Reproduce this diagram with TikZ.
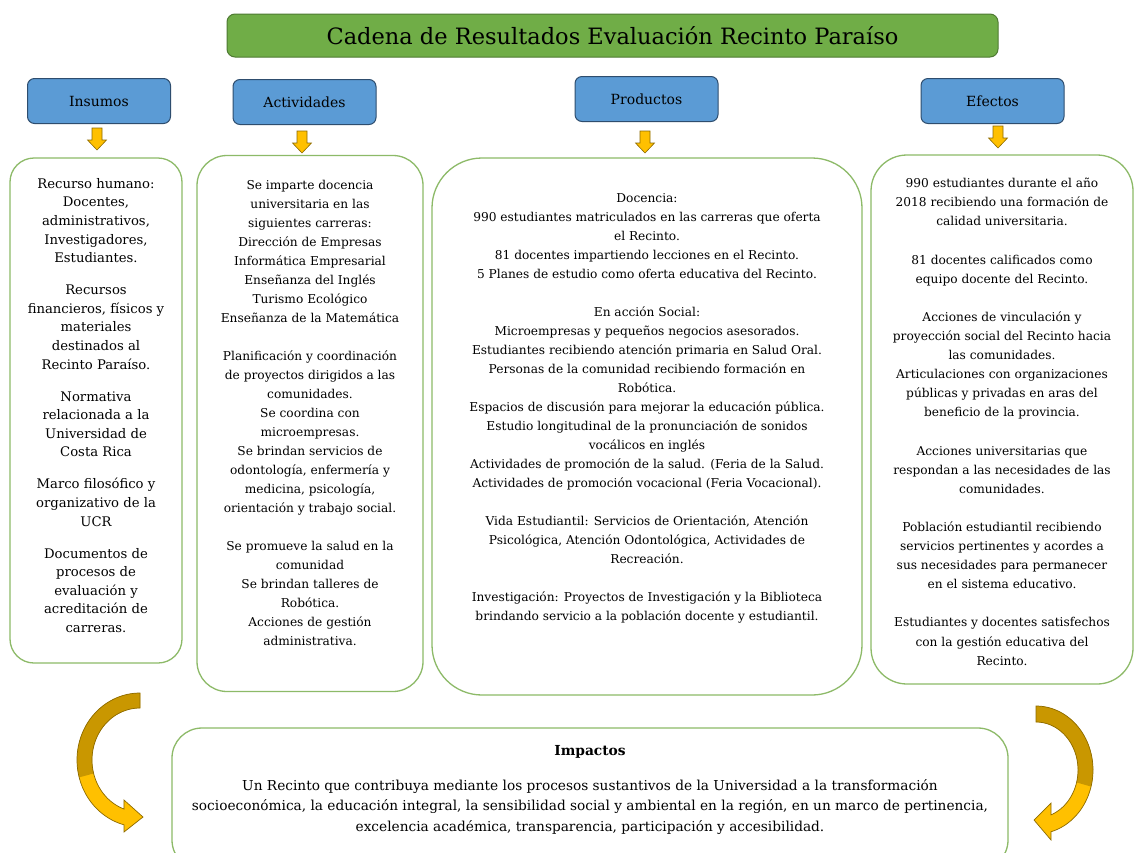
\documentclass[tikz,border=0pt]{standalone}
\usepackage{fontspec}
\setmainfont{DejaVu Serif}
\definecolor{titlefill}{HTML}{70AD47}
\definecolor{titledraw}{HTML}{4E7A32}
\definecolor{hdrfill}{HTML}{5B9BD5}
\definecolor{hdrdraw}{HTML}{2E4D6E}
\definecolor{boxdraw}{HTML}{8DBA68}
\definecolor{arrfill}{HTML}{FFC000}
\definecolor{arrdark}{HTML}{C99700}
\definecolor{arrdraw}{HTML}{8C6A00}
\tikzset{
  titlebox/.style={draw=titledraw, fill=titlefill, line width=1pt, rounded corners=8pt, minimum width=771pt, minimum height=43pt, inner sep=0pt, font=\fontsize{22.5}{26}\selectfont},
  hdrbox/.style={draw=hdrdraw, fill=hdrfill, line width=1pt, rounded corners=7pt, minimum width=143pt, minimum height=45pt, inner sep=0pt, font=\fontsize{14}{17}\selectfont},
  cbox/.style={draw=boxdraw, line width=1.3pt, fill=white, inner sep=0pt},
  txt/.style={align=center, inner sep=0pt, anchor=north},
  blk/.style={draw=arrdraw, fill=arrfill, line width=0.6pt, line join=miter},
  downarrow/.pic={\draw[blk] (-5,0) -- (5,0) -- (5,12) -- (9.5,12) -- (0,22) -- (-9.5,12) -- (-5,12) -- cycle;}
}
\begin{document}
\begin{tikzpicture}[x=1pt,y=-1pt]
\clip (0,0) rectangle (1134,852);
\fill[white] (0,0) rectangle (1134,852);

% title
\node[titlebox] (title) at (612.5,35.5) {Cadena de Resultados Evaluación Recinto Paraíso};

% headers
\node[hdrbox] (hins) at (99,101) {Insumos};
\node[hdrbox] (hact) at (304.5,102) {Actividades};
\node[hdrbox] (hpro) at (646.5,99) {Productos};
\node[hdrbox] (hefe) at (992.5,101) {Efectos};

% small arrows
\pic (a1) at (97,128) {downarrow};
\pic (a2) at (302,131) {downarrow};
\pic (a3) at (645,131) {downarrow};
\pic (a4) at (998,126) {downarrow};

% content boxes
\node[cbox, rounded corners=24pt, minimum width=172pt, minimum height=505pt] (bins) at (96,410.5) {};
\node[cbox, rounded corners=30pt, minimum width=226pt, minimum height=536pt] (bact) at (310,423.5) {};
\node[cbox, rounded corners=50pt, minimum width=430pt, minimum height=537pt] (bpro) at (647,426.5) {};
\node[cbox, rounded corners=36pt, minimum width=262pt, minimum height=529pt] (befe) at (1002,419.5) {};
\node[cbox, rounded corners=30pt, minimum width=836pt, minimum height=142pt] (bimp) at (590,799) {};

% texts
\node[txt, font=\fontsize{13.2}{18.6}\selectfont] (tins) at (96,178) {Recurso humano:\\ Docentes,\\ administrativos,\\ Investigadores,\\ Estudiantes.\\[13.4pt]
Recursos\\ financieros, físicos y\\ materiales\\ destinados al\\ Recinto Paraíso.\\[13.4pt]
Normativa\\ relacionada a la\\ Universidad de\\ Costa Rica\\[13.4pt]
Marco filosófico y\\ organizativo de la\\ UCR\\[13.4pt]
Documentos de\\ procesos de\\ evaluación y\\ acreditación de\\ carreras.};

\node[txt, font=\fontsize{12.2}{19}\selectfont] (tact) at (310,180) {Se imparte docencia\\ universitaria en las\\ siguientes carreras:\\ Dirección de Empresas\\ Informática Empresarial\\ Enseñanza del Inglés\\ Turismo Ecológico\\ Enseñanza de la Matemática\\[19pt]
Planificación y coordinación\\ de proyectos dirigidos a las\\ comunidades.\\ Se coordina con\\ microempresas.\\ Se brindan servicios de\\ odontología, enfermería y\\ medicina, psicología,\\ orientación y trabajo social.\\[19pt]
Se promueve la salud en la\\ comunidad\\ Se brindan talleres de\\ Robótica.\\ Acciones de gestión\\ administrativa.};

\node[txt, font=\fontsize{12.2}{19}\selectfont] (tpro) at (647,193) {Docencia:\\ 990 estudiantes matriculados en las carreras que oferta\\ el Recinto.\\ 81 docentes impartiendo lecciones en el Recinto.\\ 5 Planes de estudio como oferta educativa del Recinto.\\[19pt]
En acción Social:\\ Microempresas y pequeños negocios asesorados.\\ Estudiantes recibiendo atención primaria en Salud Oral.\\ Personas de la comunidad recibiendo formación en\\ Robótica.\\ Espacios de discusión para mejorar la educación pública.\\ Estudio longitudinal de la pronunciación de sonidos\\ vocálicos en inglés\\ Actividades de promoción de la salud. (Feria de la Salud.\\ Actividades de promoción vocacional (Feria Vocacional).\\[19pt]
Vida Estudiantil: Servicios de Orientación, Atención\\ Psicológica, Atención Odontológica, Actividades de\\ Recreación.\\[19pt]
Investigación: Proyectos de Investigación y la Biblioteca\\ brindando servicio a la población docente y estudiantil.};

\node[txt, font=\fontsize{12.2}{19.1}\selectfont] (tefe) at (1002,178) {990 estudiantes durante el año\\ 2018 recibiendo una formación de\\ calidad universitaria.\\[19.1pt]
81 docentes calificados como\\ equipo docente del Recinto.\\[19.1pt]
Acciones de vinculación y\\ proyección social del Recinto hacia\\ las comunidades.\\ Articulaciones con organizaciones\\ públicas y privadas en aras del\\ beneficio de la provincia.\\[19.1pt]
Acciones universitarias que\\ respondan a las necesidades de las\\ comunidades.\\[19.1pt]
Población estudiantil recibiendo\\ servicios pertinentes y acordes a\\ sus necesidades para permanecer\\ en el sistema educativo.\\[19.1pt]
Estudiantes y docentes satisfechos\\ con la gestión educativa del\\ Recinto.};

\node[txt, font=\bfseries\fontsize{13.8}{16}\selectfont] (timph) at (590,745) {Impactos};
\node[txt, font=\fontsize{13.7}{20.5}\selectfont] (timp) at (590,779) {Un Recinto que contribuya mediante los procesos sustantivos de la Universidad a la transformación\\ socioeconómica, la educación integral, la sensibilidad social y ambiental en la región, en un marco de pertinencia,\\ excelencia académica, transparencia, participación y accesibilidad.};

% curved arrows (left)
\fill[arrfill] plot[domain=270:104.7,samples=60] ({140+63*cos(\x)},{760+67*sin(\x)}) -- (124,832) -- (143,817) -- (124,800) -- plot[domain=109.5:270,samples=60] ({140+48*cos(\x)},{760+52*sin(\x)}) -- cycle;
\fill[arrdark] plot[domain=270:165,samples=40] ({140+63*cos(\x)},{760+67*sin(\x)}) -- plot[domain=165:270,samples=40] ({140+48*cos(\x)},{760+52*sin(\x)}) -- cycle;
\draw[arrdraw, line width=0.7pt, line join=miter] plot[domain=270:104.7,samples=60] ({140+63*cos(\x)},{760+67*sin(\x)}) -- (124,832) -- (143,817) -- (124,800) -- plot[domain=109.5:270,samples=60] ({140+48*cos(\x)},{760+52*sin(\x)}) -- cycle;

% curved arrows (right)
\fill[arrfill] plot[domain=-90:74.7,samples=60] ({1036+57*cos(\x)},{770+64*sin(\x)}) -- (1051,840) -- (1034,820) -- (1051,803) -- plot[domain=69.1:-90,samples=60] ({1036+42*cos(\x)},{770+48*sin(\x)}) -- cycle;
\fill[arrdark] plot[domain=-90:15,samples=40] ({1036+57*cos(\x)},{770+64*sin(\x)}) -- plot[domain=15:-90,samples=40] ({1036+42*cos(\x)},{770+48*sin(\x)}) -- cycle;
\draw[arrdraw, line width=0.7pt, line join=miter] plot[domain=-90:74.7,samples=60] ({1036+57*cos(\x)},{770+64*sin(\x)}) -- (1051,840) -- (1034,820) -- (1051,803) -- plot[domain=69.1:-90,samples=60] ({1036+42*cos(\x)},{770+48*sin(\x)}) -- cycle;
\end{tikzpicture}
\end{document}
